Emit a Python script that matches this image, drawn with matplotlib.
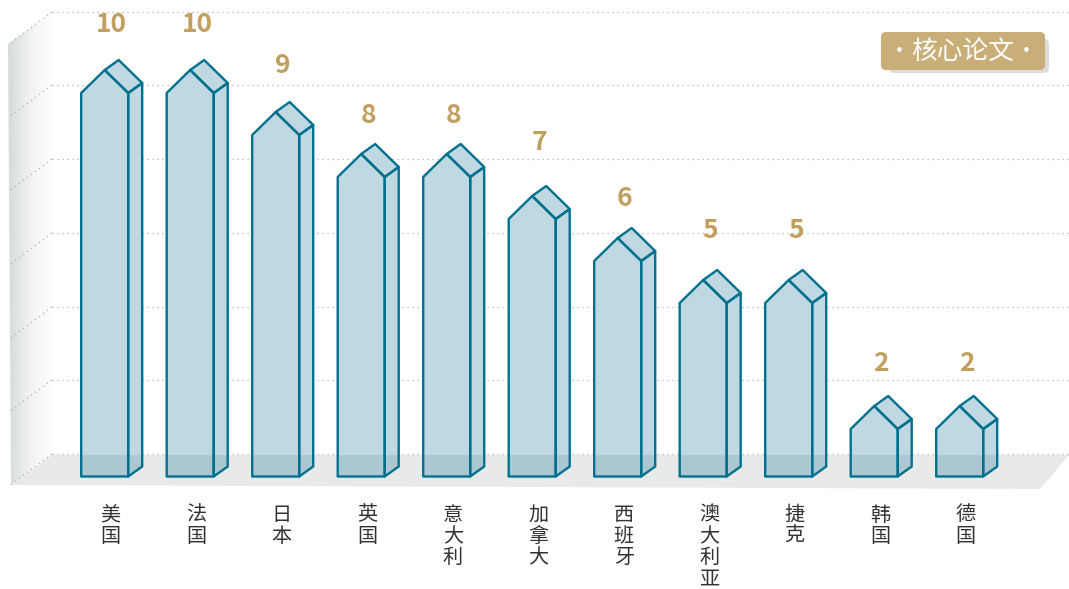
# -*- coding: utf-8 -*-
import numpy as np
import matplotlib.pyplot as plt
from matplotlib.colors import LinearSegmentedColormap
from matplotlib.patches import Polygon, FancyBboxPatch

plt.rcParams['font.family'] = ['Noto Sans CJK SC', 'DejaVu Sans']

countries = ["美国", "法国", "日本", "英国", "意大利", "加拿大", "西班牙", "澳大利亚", "捷克", "韩国", "德国"]
papers = [10, 10, 9, 8, 8, 7, 6, 5, 5, 2, 2]

W, H = 1069, 589
BLUE = "#00708F"
FACE = "#BFD8E1"
FACE_FLOOR = "#ABC7D1"
GOLD = "#C19F5F"

# scale of the bar axes, in pixels
X0, XU = 81.2, 85.5
Y0, YU = 490.0, 42.0
BASE = 476.5

# value label positions are hand placed in the original
label_y = [25, 25, 66, 116, 116, 143, 199, 231, 231, 364, 364]
grid_y = [12, 85, 159, 233, 307, 380, 454]


def main():
    fig = plt.figure(figsize=(W / 100, H / 100), dpi=100)

    # background wall and floor, in pixels
    bg = fig.add_axes([0, 0, 1, 1], zorder=1)
    bg.axis("off")

    wall = Polygon([(8, 44), (52, 12), (52, 454), (11, 485)], closed=True, fc="none", ec="none")
    bg.add_patch(wall)
    cmap = LinearSegmentedColormap.from_list("wall", ["#D6DADA", "#F0F2F2", "#FFFFFF"])
    grad = np.linspace(0, 1, 256).reshape(1, -1)
    im = bg.imshow(grad, extent=(8, 52, 489, 12), cmap=cmap, vmin=0, vmax=1, aspect="auto", zorder=1)
    im.set_clip_path(wall)
    bg.set_xlim(0, W)
    bg.set_ylim(H, 0)

    floor = Polygon([(52, 455), (1069, 455), (1040, 489), (11, 485)], closed=True, fc="#E8EAE9", ec="none", zorder=2)
    bg.add_patch(floor)

    for y in grid_y:
        bg.plot([52, W], [y, y], color="#B0B0B0", lw=0.9, ls=(0, (1, 3)), zorder=3)
        bg.plot([52, 9], [y, y + 32], color="#B0B0B0", lw=0.9, ls=(0, (1, 3)), zorder=3)

    # bars: x is the category index, y is the value
    ax = fig.add_axes([0, 0, 1, 1], zorder=2)
    ax.patch.set_alpha(0)
    ax.set_xlim(-X0 / XU, (W - X0) / XU)
    ax.set_ylim((Y0 - H) / YU, Y0 / YU)
    ax.axis("off")

    def pt(i, v, dx, dy):
        return (i + dx / XU, v - dy / YU)

    b = (Y0 - BASE) / YU
    for i, (name, v) in enumerate(zip(countries, papers)):
        front = [pt(i, b, 0, 0), pt(i, v, 0, 23), pt(i, v, 23.5, 0), pt(i, v, 47, 23), pt(i, b, 47, 0)]
        roof = [pt(i, v, 23.5, 0), pt(i, v, 37.5, -10), pt(i, v, 61, 13), pt(i, v, 47, 23)]
        side = [pt(i, b, 47, 0), pt(i, v, 47, 23), pt(i, v, 61, 13), pt(i, b, 61, -10)]
        for shape in (side, roof, front):
            ax.add_patch(Polygon(shape, closed=True, fc=FACE, ec="none", zorder=2))
            low = Polygon(shape, closed=True, fc=FACE_FLOOR, ec="none", zorder=3)
            ax.add_patch(low)
            # the floor shows through the lower part of the bar
            low.set_clip_path(floor.get_path(), floor.get_transform())
            ax.add_patch(Polygon(shape, closed=True, fc="none", ec=BLUE, lw=1.7, joinstyle="round", zorder=4))

        cx = i + 30.5 / XU
        ax.text(cx, (Y0 - label_y[i]) / YU, str(v), color=GOLD, fontsize=19, fontweight="bold",
                ha="center", va="center", zorder=5)
        ax.text(cx - 1 / XU, (Y0 - 504.5) / YU, "\n".join(name), color="#333333", fontsize=14.5, fontweight="light",
                ha="center", va="top", linespacing=1.03, zorder=5)

    # badge
    top = fig.add_axes([0, 0, 1, 1], zorder=3)
    top.patch.set_alpha(0)
    top.set_xlim(0, W)
    top.set_ylim(H, 0)
    top.axis("off")
    top.add_patch(FancyBboxPatch((889, 39), 160, 34, boxstyle="round,pad=0,rounding_size=5", fc="#DCDCDC", ec="none"))
    top.add_patch(FancyBboxPatch((881, 32), 164, 38, boxstyle="round,pad=0,rounding_size=5", fc="#C9AE78", ec="none"))
    top.text(963, 53, "核心论文", color="white", fontsize=18.5, ha="center", va="center")
    top.text(899, 52, "·", color="white", fontsize=15, ha="center", va="center")
    top.text(1026, 52, "·", color="white", fontsize=15, ha="center", va="center")

    plt.savefig("out.png", dpi=100)


if __name__ == '__main__':
    main()
